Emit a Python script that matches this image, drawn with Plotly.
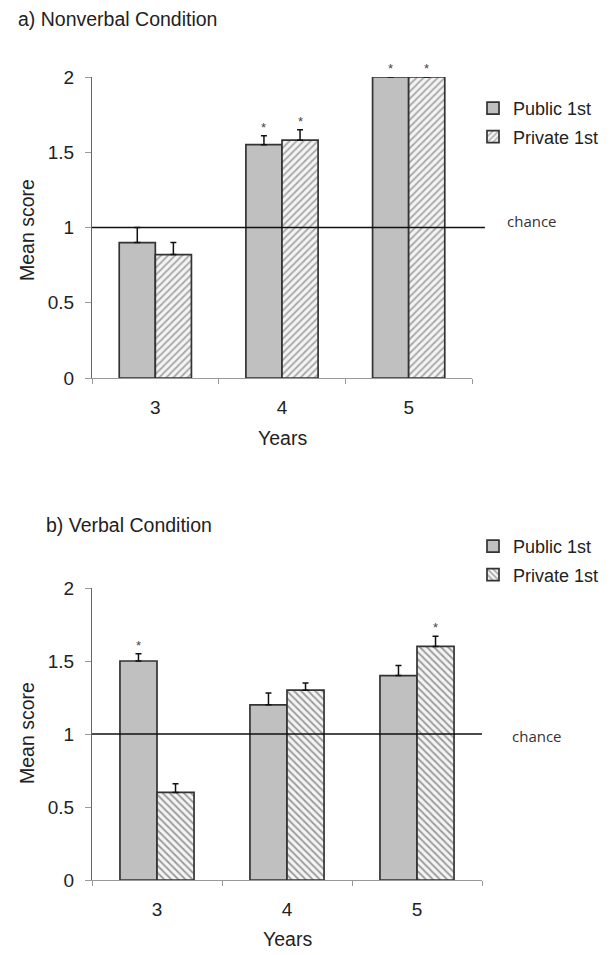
import plotly.graph_objects as go

# ---------------- data ----------------
years = ["3", "4", "5"]
series_names = ["Public 1st", "Private 1st"]

a_public = [0.90, 1.55, 2.00]
a_public_err = [0.10, 0.06, 0.0]
a_private = [0.82, 1.58, 2.00]
a_private_err = [0.08, 0.07, 0.0]
a_public_sig = [False, True, True]
a_private_sig = [False, True, True]

b_public = [1.50, 1.20, 1.40]
b_public_err = [0.05, 0.08, 0.07]
b_private = [0.60, 1.30, 1.60]
b_private_err = [0.06, 0.05, 0.07]
b_public_sig = [True, False, False]
b_private_sig = [False, False, True]

CHANCE = 1.0
y_ticks = [0, 0.5, 1, 1.5, 2]
y_tick_text = ["0", "0.5", "1", "1.5", "2"]

panel_titles = ["a) Nonverbal Condition", "b) Verbal Condition"]

# ---------------- style ----------------
FONT = "Liberation Sans, Arial, sans-serif"
TXT = "#222222"
XAXC = "#999999"
YAXC = "#666666"
OUTLINE = "#333333"
PUBLIC_FILL = "#c0c0c0"
BARGAP = 0.43

W, H = 612, 955
OFF = 8  # page margin of the browser around the figure


def px(x):
    return (x - OFF) / W


def py(y):
    return 1 - (y - OFF) / H


fig = go.Figure()


def add_panel(n, pub, pub_err, prv, prv_err, hatch, hatch_col, legend):
    xa = "x" if n == 1 else f"x{n}"
    ya = "y" if n == 1 else f"y{n}"
    eb = dict(type="data", symmetric=False, arrayminus=[0, 0, 0],
              color="#111111", thickness=1.5, width=3, visible=True)
    fig.add_trace(go.Bar(
        x=years, y=pub, name=series_names[0], xaxis=xa, yaxis=ya, legend=legend,
        legendgroup=f"{legend}_pub",
        marker=dict(color=PUBLIC_FILL, line=dict(color=OUTLINE, width=1.7)),
        error_y={**eb, "array": pub_err}))
    fig.add_trace(go.Bar(
        x=years, y=prv, name=series_names[1], xaxis=xa, yaxis=ya, legend=legend,
        legendgroup=f"{legend}_prv",
        marker=dict(color="white", line=dict(color=OUTLINE, width=1.7),
                    pattern=dict(shape=hatch, fgcolor=hatch_col, bgcolor="#f4f4f4",
                                 size=5, solidity=0.35, fillmode="replace")),
        error_y={**eb, "array": prv_err}))


add_panel(1, a_public, a_public_err, a_private, a_private_err, "/", "#a8a8a8", "legend")
add_panel(2, b_public, b_public_err, b_private, b_private_err, "\\", "#9a9a9a", "legend2")

half = (1 - BARGAP) / 4


def add_stars(n, vals, errs, sig, trace_idx):
    xr = "x" if n == 1 else f"x{n}"
    yr = "y" if n == 1 else f"y{n}"
    for i, (v, e, s) in enumerate(zip(vals, errs, sig)):
        if not s:
            continue
        xpos = i + (2 * trace_idx - 1) * half
        fig.add_annotation(x=xpos, y=v + e, xref=xr, yref=yr, text="*",
                           showarrow=False, yanchor="bottom", yshift=-1,
                           font=dict(family=FONT, size=13, color="#444444"))


add_stars(1, a_public, a_public_err, a_public_sig, 0)
add_stars(1, a_private, a_private_err, a_private_sig, 1)
add_stars(2, b_public, b_public_err, b_public_sig, 0)
add_stars(2, b_private, b_private_err, b_private_sig, 1)

doms = {
    1: dict(x=[px(92), px(472)], y=[py(378), py(77)]),
    2: dict(x=[px(92), px(482)], y=[py(880), py(588)]),
}

for n in (1, 2):
    xk = "xaxis" if n == 1 else f"xaxis{n}"
    yk = "yaxis" if n == 1 else f"yaxis{n}"
    fig.update_layout(**{
        xk: dict(domain=doms[n]["x"], anchor="y" if n == 1 else f"y{n}",
                 type="category", tickson="boundaries", ticks="outside",
                 ticklen=5, tickcolor=XAXC, showline=True, linecolor=XAXC,
                 linewidth=1.3, showgrid=False, ticklabelstandoff=12,
                 automargin=False,
                 tickfont=dict(family=FONT, size=19, color=TXT),
                 range=[-0.5, 2.5]),
        yk: dict(domain=doms[n]["y"], anchor="x" if n == 1 else f"x{n}",
                 range=[0, 2], tickvals=y_ticks, ticktext=y_tick_text,
                 ticks="outside", ticklen=6, tickcolor=XAXC, showline=True,
                 linecolor=YAXC, linewidth=1.2, showgrid=False, zeroline=False,
                 ticklabelstandoff=7, automargin=False,
                 tickfont=dict(family=FONT, size=19, color=TXT)),
    })
    xr = "x" if n == 1 else f"x{n}"
    yr = "y" if n == 1 else f"y{n}"
    fig.add_shape(type="line", xref=f"{xr} domain", yref=yr,
                  x0=0, x1=1.034 if n == 1 else 1.0, y0=CHANCE, y1=CHANCE,
                  line=dict(color="#111111", width=1.3))
    fig.add_annotation(xref=f"{xr} domain", yref=yr, x=1.087 if n == 1 else 1.072,
                       y=CHANCE, text="chance", showarrow=False,
                       xanchor="left", yanchor="middle", yshift=7 if n == 1 else -2,
                       font=dict(family="Open Sans, sans-serif", size=15, color="#333333"))

fig.add_annotation(xref="paper", yref="paper", x=px(16), y=py(19),
                   text=panel_titles[0], showarrow=False, xanchor="left",
                   yanchor="middle", font=dict(family=FONT, size=19.5, color=TXT))
fig.add_annotation(xref="paper", yref="paper", x=px(44), y=py(525),
                   text=panel_titles[1], showarrow=False, xanchor="left",
                   yanchor="middle", font=dict(family=FONT, size=19.5, color=TXT))
for yc in (230, 733):
    fig.add_annotation(xref="paper", yref="paper", x=px(27), y=py(yc),
                       text="Mean score", textangle=-90, showarrow=False,
                       xanchor="center", yanchor="middle",
                       font=dict(family=FONT, size=19.5, color=TXT))
fig.add_annotation(xref="x domain", yref="paper", x=0.5, y=py(438),
                   text="Years", showarrow=False, yanchor="middle",
                   font=dict(family=FONT, size=19.5, color=TXT))
fig.add_annotation(xref="x2 domain", yref="paper", x=0.5, y=py(939),
                   text="Years", showarrow=False, yanchor="middle",
                   font=dict(family=FONT, size=19.5, color=TXT))

leg_common = dict(xanchor="left", yanchor="top", bgcolor="rgba(0,0,0,0)",
                  xref="container", yref="container",
                  font=dict(family=FONT, size=18, color=TXT),
                  itemwidth=30, tracegroupgap=2, indentation=-12)
fig.update_layout(
    width=W, height=H, autosize=False,
    margin=dict(l=0, r=0, t=0, b=0, pad=0, autoexpand=False),
    paper_bgcolor="white", plot_bgcolor="white",
    barmode="group", bargap=BARGAP, bargroupgap=0,
    showlegend=True,
    legend=dict(x=px(485), y=py(90), **leg_common),
    legend2=dict(x=px(485), y=py(528), **leg_common),
)

fig.write_html("out.html")
